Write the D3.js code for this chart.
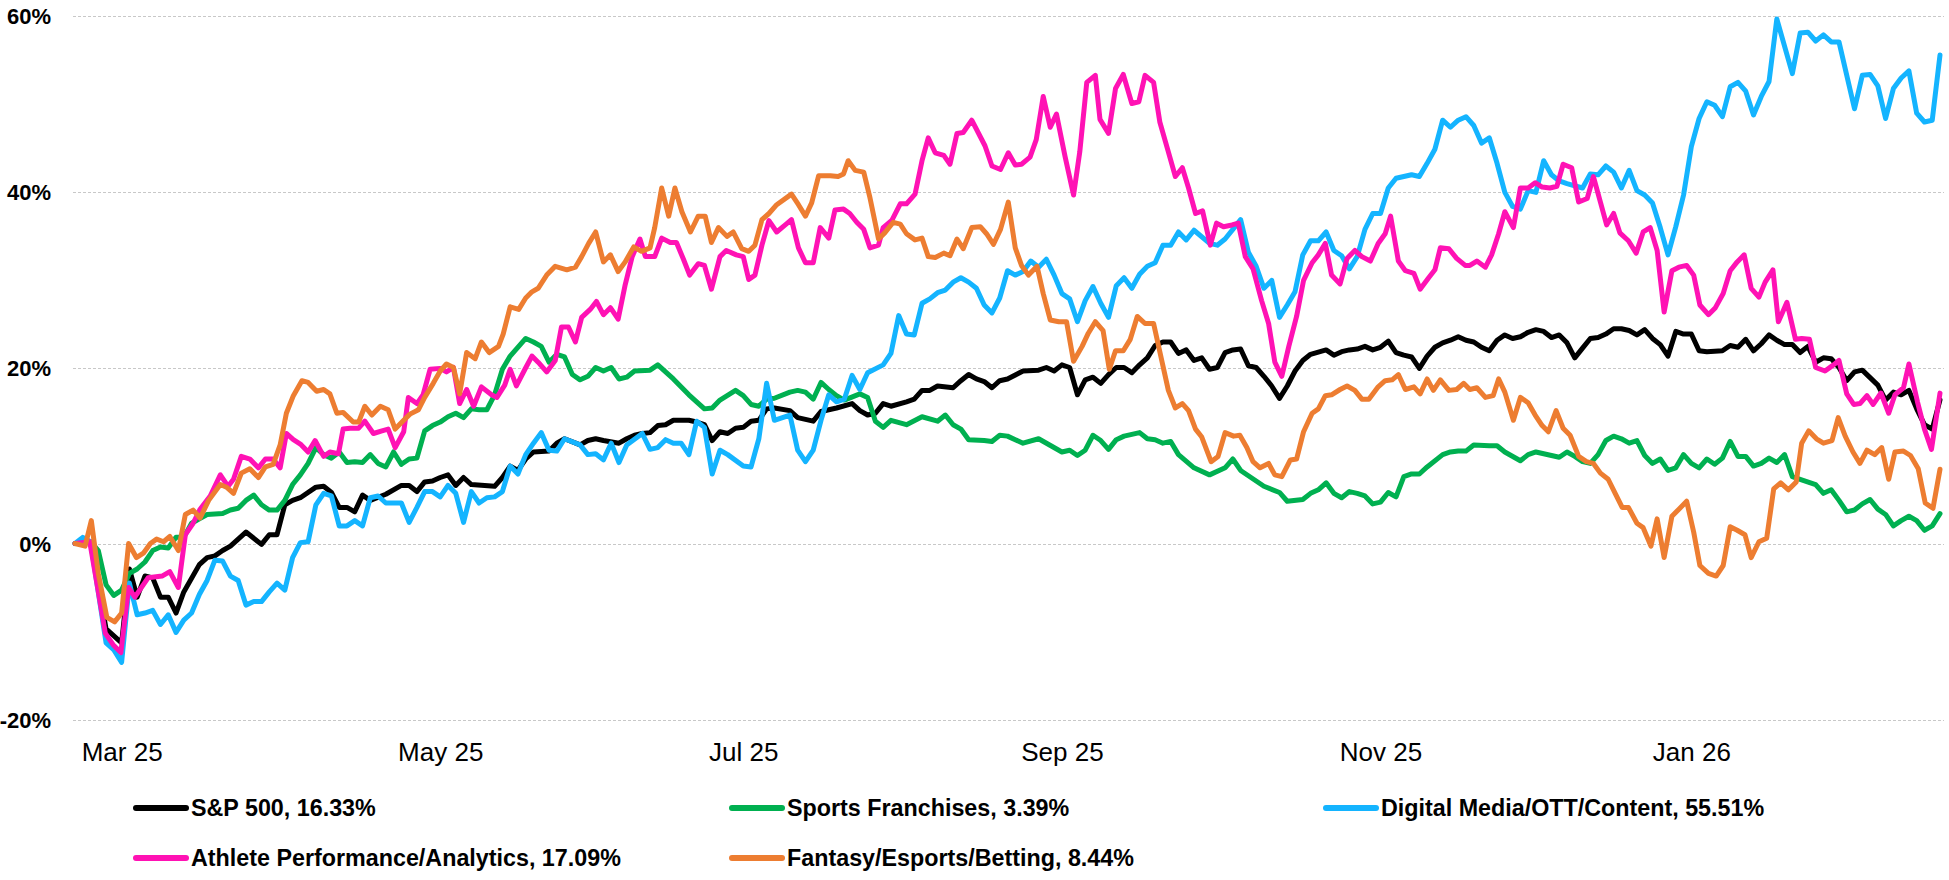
<!DOCTYPE html>
<html>
<head>
<meta charset="utf-8">
<script src="https://cdn.jsdelivr.net/npm/d3@7"></script>
<style>
  html, body { margin: 0; padding: 0; background: #ffffff; }
  svg { display: block; }
</style>
</head>
<body>
<svg id="chart" width="1949" height="880"></svg>
<script>
// Cumulative % change per trading session: [session, % change]
const sp500 = [[0,0],[2,0.2],[4,-9.7],[6,-11.3],[7,-2.9],[8,-6.1],[9,-3.7],[10,-3.9],[11,-6.1],[12,-6.1],[13,-7.9],[14,-5.5],[16,-2.4],[17,-1.6],[18,-1.4],[19,-0.8],[20,-0.3],[22,1.3],[24,-0.1],[25,1.0],[26,1.0],[27,4.4],[28,4.9],[29,5.2],[31,6.4],[32,6.5],[33,5.8],[34,4.1],[35,4.1],[36,3.6],[37,5.5],[38,4.9],[40,5.6],[42,6.6],[43,6.6],[44,5.9],[45,7.0],[46,7.1],[47,7.5],[48,7.8],[49,6.6],[50,7.5],[51,6.7],[54,6.5],[55,7.5],[56,8.8],[57,8.3],[58,9.6],[59,10.4],[61,10.5],[62,11.4],[63,11.9],[65,11.2],[66,11.7],[67,11.9],[68,11.7],[70,11.4],[71,11.9],[72,12.3],[73,12.5],[74,12.6],[75,13.4],[76,13.5],[77,14.0],[79,14.0],[80,13.8],[81,13.5],[82,11.7],[83,12.7],[84,12.5],[85,13.1],[86,13.2],[87,13.9],[88,14.0],[89,15.3],[90,15.4],[92,15.1],[93,14.3],[95,13.9],[96,15.0],[98,15.4],[100,15.9],[101,15.1],[102,14.6],[103,14.8],[104,15.9],[105,15.6],[107,16.1],[108,16.4],[109,17.4],[110,17.4],[111,17.9],[113,17.7],[114,18.5],[115,19.2],[116,18.7],[117,18.4],[118,17.7],[119,18.5],[120,18.7],[122,19.6],[124,19.7],[125,20.0],[126,19.6],[127,20.3],[128,20.0],[129,16.9],[130,18.6],[131,18.9],[132,18.2],[133,19.2],[134,20.0],[135,20.0],[136,19.4],[137,20.3],[138,21.1],[139,22.5],[140,22.9],[141,22.9],[142,21.6],[143,22.0],[144,20.8],[145,21.1],[146,19.8],[147,20.0],[148,21.7],[149,22.0],[150,22.1],[151,20.2],[152,20.0],[153,19.0],[154,17.9],[155,16.5],[156,17.9],[157,19.6],[158,20.8],[159,21.5],[161,22.0],[162,21.4],[163,21.8],[164,22.0],[165,22.1],[166,22.4],[167,22.0],[168,22.3],[169,23.0],[170,21.7],[171,21.4],[172,21.2],[173,19.9],[174,21.3],[175,22.3],[176,22.8],[177,23.1],[178,23.5],[179,23.1],[180,22.9],[181,22.3],[182,21.9],[183,23.1],[184,23.7],[185,23.3],[186,23.5],[187,24.0],[188,24.3],[189,24.1],[190,23.4],[191,23.7],[192,22.8],[193,21.1],[194,22.2],[195,23.3],[196,23.4],[197,23.8],[198,24.4],[199,24.4],[200,24.2],[201,23.7],[202,24.3],[203,23.3],[204,22.6],[205,21.3],[206,24.1],[207,23.8],[208,23.8],[209,21.9],[210,21.8],[212,21.9],[213,22.5],[214,22.3],[215,23.2],[216,21.9],[217,22.7],[218,23.7],[219,23.1],[220,22.6],[221,22.6],[222,21.7],[223,22.4],[224,20.6],[225,21.1],[226,21.0],[227,20.0],[228,18.5],[229,19.5],[230,19.7],[232,18.0],[233,16.3],[234,17.2],[235,16.9],[236,17.4],[237,15.3],[238,13.5],[239,13.0],[240,16.33]];

const sportsFranchises = [[0,0],[2,0.2],[3,-0.8],[4,-4.7],[5,-5.9],[6,-5.3],[7,-3.4],[8,-2.9],[9,-2.1],[10,-0.8],[11,-0.4],[12,-0.5],[13,0.7],[14,0.7],[15,2.3],[16,2.8],[17,3.3],[19,3.4],[20,3.8],[21,4.0],[22,4.9],[23,5.5],[24,4.4],[25,3.8],[26,3.8],[27,4.9],[28,6.7],[29,7.8],[30,9.1],[31,10.9],[32,10.1],[33,9.7],[34,10.4],[35,9.2],[36,9.3],[37,9.2],[38,10.1],[39,9.1],[40,8.7],[41,10.4],[42,9.0],[43,9.6],[44,9.7],[45,12.8],[46,13.4],[47,13.8],[48,14.4],[49,14.8],[50,14.3],[51,15.3],[52,15.2],[53,15.2],[54,16.9],[55,19.8],[56,21.3],[58,23.3],[59,22.9],[60,22.4],[61,20.6],[62,21.5],[63,21.2],[64,19.2],[65,18.6],[66,19.0],[67,20.0],[68,19.6],[69,20.0],[70,18.7],[71,18.9],[72,19.6],[74,19.7],[75,20.3],[77,18.7],[79,16.9],[80,16.1],[81,15.3],[82,15.4],[83,16.3],[85,17.4],[86,16.8],[87,15.8],[88,15.6],[89,16.4],[90,16.5],[92,17.2],[93,17.4],[94,17.2],[95,16.4],[96,18.3],[97,17.5],[98,16.8],[99,16.3],[101,17.0],[102,16.6],[103,13.9],[104,13.2],[105,14.0],[107,13.5],[109,14.4],[111,13.9],[112,14.6],[113,13.5],[114,13.0],[115,11.8],[117,11.7],[118,11.6],[119,12.3],[120,12.2],[122,11.4],[124,11.9],[127,10.4],[128,10.6],[129,10.0],[130,10.6],[131,12.3],[132,11.7],[133,10.7],[134,11.8],[135,12.2],[137,12.6],[138,11.9],[139,11.8],[140,11.4],[141,11.6],[142,10.1],[144,8.6],[146,7.8],[148,8.6],[149,9.6],[150,8.3],[152,7.1],[153,6.5],[155,5.8],[156,4.8],[158,5.0],[159,5.7],[160,6.1],[161,6.9],[162,5.7],[163,5.2],[164,5.9],[165,5.7],[166,5.4],[167,4.5],[168,4.7],[169,5.8],[170,5.3],[171,7.6],[172,7.9],[173,7.9],[174,8.7],[176,10.1],[177,10.4],[178,10.5],[179,10.5],[180,11.2],[182,11.1],[183,11.1],[184,10.4],[186,9.4],[187,10.1],[188,10.4],[191,9.8],[192,10.4],[193,9.9],[194,9.3],[195,9.1],[196,10.1],[197,11.7],[198,12.2],[199,11.9],[200,11.4],[201,11.7],[202,10.0],[203,9.1],[204,9.6],[205,8.3],[206,8.6],[207,10.1],[208,9.1],[209,8.6],[210,9.6],[211,9.0],[212,9.7],[213,11.6],[214,9.9],[215,9.9],[216,8.8],[217,9.1],[218,9.7],[219,9.2],[220,10.1],[221,7.6],[222,7.3],[224,6.7],[225,5.7],[226,6.1],[227,4.9],[228,3.6],[229,3.8],[230,4.5],[231,5.0],[232,3.9],[233,3.3],[234,2.0],[235,2.6],[236,3.1],[237,2.6],[238,1.5],[239,2.0],[240,3.39]];

const digitalMedia = [[0,0],[1,0.7],[2,0.2],[4,-11.3],[5,-12.1],[6,-13.5],[7,-4.5],[8,-8.1],[9,-7.9],[10,-7.6],[11,-9.2],[12,-8.1],[13,-10.1],[14,-8.7],[15,-7.9],[16,-5.8],[17,-4.2],[18,-1.9],[19,-2.0],[20,-3.7],[21,-4.2],[22,-7.0],[23,-6.6],[24,-6.6],[25,-5.5],[26,-4.5],[27,-5.3],[28,-1.6],[29,0.1],[30,0.2],[31,4.4],[32,5.7],[33,5.4],[34,2.0],[35,2.0],[36,2.6],[37,2.0],[38,5.2],[39,5.4],[40,4.6],[41,4.6],[42,4.6],[43,2.4],[44,4.1],[45,5.9],[46,5.9],[47,5.3],[48,6.6],[49,5.7],[50,2.4],[51,5.9],[52,4.6],[53,5.2],[54,5.3],[55,5.9],[56,8.8],[57,7.9],[58,10.1],[59,11.4],[60,12.6],[61,10.6],[62,10.5],[63,11.9],[65,11.2],[66,10.1],[67,10.2],[68,9.5],[69,11.4],[70,9.2],[71,11.2],[73,12.5],[74,10.7],[75,10.9],[76,11.8],[77,11.4],[78,11.4],[79,10.1],[80,13.9],[81,13.2],[82,7.9],[83,10.6],[84,10.1],[86,8.8],[87,8.7],[88,11.9],[89,18.2],[90,14.0],[92,14.6],[93,10.6],[94,9.3],[95,10.6],[96,14.0],[97,16.9],[98,16.1],[99,16.4],[100,19.1],[101,17.5],[102,19.4],[104,20.3],[105,21.6],[106,25.9],[107,23.8],[108,23.7],[109,27.3],[110,27.8],[111,28.5],[112,28.8],[113,29.7],[114,30.2],[115,29.7],[116,29.0],[117,27.1],[118,26.2],[119,27.9],[120,31.0],[121,30.5],[122,30.9],[123,32.1],[124,31.4],[125,32.3],[126,30.5],[127,28.4],[128,27.8],[129,25.2],[130,27.6],[131,29.2],[132,27.3],[133,25.7],[134,29.3],[135,30.2],[136,29.0],[137,30.6],[138,31.5],[139,31.9],[140,33.9],[141,33.9],[142,35.4],[143,34.5],[144,35.6],[146,34.1],[147,33.9],[148,34.6],[149,35.7],[150,36.8],[151,33.1],[152,31.5],[153,29.0],[154,29.9],[155,25.7],[156,27.1],[157,28.6],[158,32.8],[159,34.4],[160,34.4],[161,35.4],[162,33.3],[163,32.7],[164,31.2],[165,32.6],[166,35.7],[167,37.5],[168,37.5],[169,40.4],[170,41.5],[172,41.9],[173,41.7],[174,43.2],[175,44.8],[176,48.1],[177,47.3],[178,48.1],[179,48.5],[180,47.5],[181,45.5],[182,46.1],[183,43.2],[184,39.9],[185,38.3],[186,38.0],[187,40.1],[188,39.9],[189,43.5],[190,41.9],[191,41.2],[192,40.9],[194,40.4],[195,42.0],[196,41.9],[197,42.9],[198,42.2],[199,40.4],[200,42.4],[201,40.1],[202,39.6],[203,38.7],[204,35.9],[205,32.8],[206,36.0],[207,39.6],[208,45.1],[209,48.3],[210,50.2],[211,49.8],[212,48.5],[213,51.9],[214,52.4],[215,51.4],[216,48.7],[217,50.8],[218,52.5],[219,59.6],[221,53.4],[222,58.0],[223,58.1],[224,57.1],[225,57.8],[226,57.0],[227,57.0],[229,49.4],[230,53.2],[231,53.3],[232,52.0],[233,48.3],[234,51.7],[235,52.9],[236,53.7],[237,48.9],[238,47.9],[239,48.1],[240,55.51]];

const athletePerformance = [[0,0],[1.9,0.2],[3,-5.5],[3.9,-10.2],[4.9,-11.5],[5.9,-12.4],[6.9,-5.0],[7.7,-6.1],[9.4,-3.9],[11.2,-3.7],[12.2,-3.2],[13.3,-5.0],[14.2,1.0],[15.2,2.3],[16.1,3.9],[17.4,5.4],[18.7,7.8],[19.7,6.5],[20.4,7.3],[21.4,9.9],[22.5,9.6],[23.6,8.6],[24.5,9.6],[25.5,9.6],[26.4,8.6],[27.2,12.5],[28.1,11.8],[29,11.3],[30,10.4],[30.9,11.7],[32,9.9],[32.8,10.4],[33.9,10.2],[34.5,13.0],[35.4,13.1],[36.5,13.1],[37.3,13.9],[38.4,12.5],[39.5,12.8],[40.3,13.0],[41.2,10.9],[42.3,12.7],[42.9,16.6],[44,15.9],[44.8,16.9],[45.7,19.8],[47,19.9],[47.8,19.5],[48.7,20.0],[49.5,15.9],[50.4,17.5],[51.3,15.6],[52.3,17.8],[53.6,16.9],[54.3,16.6],[55.3,18.0],[56,19.8],[56.8,17.9],[57.9,19.8],[58.8,21.3],[59.6,20.6],[60.7,19.5],[61.8,20.8],[62.6,24.6],[63.5,24.6],[64.4,22.9],[65.2,25.7],[66.3,26.6],[67.1,27.5],[68,26.0],[68.9,26.8],[69.9,25.5],[70.8,29.4],[71.7,32.6],[72.7,34.6],[73.4,32.6],[74.6,32.6],[75.5,34.7],[76.6,34.2],[77.4,34.2],[78.3,32.3],[79.1,30.5],[80.2,31.8],[81,31.6],[81.9,28.9],[83,32.6],[83.8,33.3],[85.1,32.8],[86,32.6],[86.7,30.0],[87.5,30.5],[88.4,33.9],[89.3,36.7],[90.3,35.4],[91.4,36.2],[92.2,36.8],[93.1,33.6],[94,31.9],[95,31.9],[95.9,35.9],[97,34.7],[97.8,37.9],[98.9,38.0],[99.7,37.5],[100.6,36.5],[101.5,35.7],[102.3,33.6],[103.4,33.9],[104,35.9],[105.1,36.7],[106.2,38.6],[107,38.6],[108.1,39.7],[109,43.5],[109.8,46.1],[110.7,44.4],[111.8,44.1],[112.6,43.1],[113.5,46.6],[114.3,46.7],[115.4,48.1],[117.1,45.2],[118,42.9],[119.1,42.5],[120.1,44.4],[121,43.0],[121.8,43.1],[122.9,43.9],[123.7,45.9],[124.6,50.8],[125.5,47.3],[126.3,48.8],[127.4,44.0],[128.5,39.6],[129.3,44.5],[130.2,52.4],[131.3,53.2],[131.9,48.2],[133,46.6],[133.9,51.7],[134.9,53.3],[136,50.0],[136.9,50.2],[137.7,53.2],[138.8,52.4],[139.6,47.9],[140.7,44.5],[141.6,41.7],[142.5,42.7],[143.3,40.4],[144.2,37.5],[145.1,37.8],[146.1,33.9],[146.9,36.4],[147.8,36.0],[148.9,36.2],[149.7,36.4],[150.6,32.6],[151.6,31.2],[152.7,27.6],[153.6,25.0],[154.4,20.6],[155.3,19.0],[156.2,22.4],[157.2,25.8],[158.1,29.9],[159.2,31.9],[160,32.8],[160.9,34.1],[161.7,30.5],[162.8,29.5],[163.7,32.4],[164.7,33.3],[165.6,32.6],[166.7,32.1],[167.7,34.1],[168.6,35.2],[169.3,37.2],[170.3,32.1],[171.2,31.0],[172.3,30.7],[173.1,28.9],[174.2,30.2],[175,31.1],[175.7,33.6],[176.8,33.5],[177.8,32.4],[178.9,31.6],[179.5,31.6],[180.4,32.1],[181.5,31.4],[182.3,32.8],[183.2,35.2],[184,37.7],[185.1,35.9],[186,40.4],[187,40.4],[187.9,41.0],[188.8,40.5],[189.8,40.4],[190.7,40.6],[191.5,43.1],[192.6,42.7],[193.5,38.8],[194.6,39.2],[195.4,41.7],[196.3,38.8],[197.1,36.2],[198,37.5],[198.8,35.3],[199.9,34.4],[200.9,33.0],[201.8,35.4],[202.7,35.9],[203.6,33.3],[204.5,26.3],[205.5,31.0],[206.4,31.4],[207.4,31.6],[208.3,30.5],[209.1,27.1],[210.2,26.0],[211.1,26.8],[212.1,28.4],[213,31.0],[213.9,32.0],[214.8,32.8],[215.7,29.0],[216.7,28.0],[217.5,29.7],[218.5,31.1],[219.2,25.2],[220.3,27.4],[221.4,23.2],[222.2,23.3],[223.2,23.2],[224,20.0],[225.2,19.6],[226.3,20.3],[227,20.8],[228,17.0],[228.9,15.8],[229.7,15.9],[230.6,16.8],[231.4,15.8],[232.4,17.1],[233.4,14.8],[234.2,16.9],[235.3,17.7],[236,20.4],[237.1,16.1],[238,13.0],[238.9,10.7],[240,17.09]];

const fantasyBetting = [[0,0],[1.3,-0.3],[2.1,2.6],[3,-3.4],[4.1,-8.4],[5.1,-8.9],[6,-7.9],[6.9,0],[7.9,-1.6],[8.8,-1.1],[9.7,0],[10.5,0.5],[11.4,0.2],[12.2,0.8],[13.3,-0.8],[14.2,3.3],[15.2,3.8],[16.1,2.9],[17.2,4.9],[18.7,6.7],[19.5,6.4],[20.4,5.7],[21.4,8.0],[22.5,8.5],[23.6,7.5],[24.5,8.7],[25.5,9.0],[26.4,11.2],[27.2,14.8],[28.1,16.8],[29.2,18.5],[30,18.3],[31.1,17.3],[32,17.5],[32.8,17.0],[33.7,14.8],[34.5,14.9],[35.8,13.8],[36.5,13.8],[37.3,15.6],[38.2,14.6],[39.3,15.6],[40.3,15.2],[41.2,13.0],[42.3,14.0],[43.1,14.7],[44.2,15.2],[45,16.6],[46.1,18.2],[47,19.6],[47.8,20.4],[48.7,20.0],[49.5,17.0],[50.4,21.7],[51.5,21.0],[52.3,22.9],[53.3,21.7],[54.5,22.4],[55.1,23.8],[56,26.9],[57.1,26.6],[58,27.9],[58.8,28.6],[59.6,29.0],[60.7,30.5],[61.8,31.5],[63.3,31.1],[64.4,31.4],[65.2,32.6],[66.1,34.1],[67,35.4],[68,32.0],[68.9,32.8],[69.9,30.9],[70.8,32.0],[71.9,33.7],[72.9,33.2],[74,33.6],[74.6,35.9],[75.5,40.4],[76.4,37.2],[77.2,40.4],[78.1,37.7],[79.2,35.4],[80.2,37.2],[81.1,37.2],[81.9,34.2],[82.8,35.9],[83.9,34.9],[84.7,35.4],[85.8,33.5],[86.7,33.2],[87.5,33.9],[88.4,36.8],[89.3,37.5],[90.3,38.5],[92.2,39.7],[93.1,38.5],[94,37.2],[94.8,38.7],[95.7,41.8],[97.2,41.8],[98.2,41.7],[98.9,42.0],[99.5,43.5],[100.4,42.4],[101.5,42.2],[102.3,39.3],[103.4,34.6],[104.2,35.3],[105.3,36.5],[106.2,36.3],[107,35.2],[108.1,34.5],[109,34.7],[109.8,32.6],[110.7,32.5],[111.8,33.0],[112.6,32.7],[113.5,34.6],[114.3,33.5],[115.4,35.9],[116.5,36.0],[117.3,35.2],[118.2,34.0],[119.1,35.7],[120.1,38.8],[121,33.6],[121.8,31.6],[122.7,30.5],[123.8,31.5],[124.6,28.4],[125.5,25.4],[126.6,25.2],[127.6,25.2],[128.5,20.7],[129.6,22.4],[130.4,23.9],[131.3,25.2],[132.3,24.2],[133.1,19.8],[133.9,21.9],[134.9,21.9],[135.8,23.2],[136.7,25.8],[137.7,25.0],[138.8,25.0],[139.9,20.6],[140.7,17.4],[141.6,15.4],[142.5,15.9],[143.3,15.1],[144.2,13.0],[145,12.1],[146.2,9.3],[147.1,9.9],[148,12.6],[149.1,12.2],[149.9,12.3],[150.8,10.9],[151.6,9.3],[152.5,8.6],[153.6,9.1],[154.4,7.8],[155.3,7.6],[156.4,9.5],[157.2,9.6],[158.1,12.7],[159.2,14.8],[160,15.3],[160.9,16.8],[161.7,16.9],[162.8,17.5],[163.7,17.9],[164.7,17.4],[165.6,16.4],[166.5,16.4],[167.7,17.8],[168.6,18.5],[169.5,18.6],[170.3,19.2],[171.2,17.5],[172.3,17.8],[173.1,17.0],[174,18.7],[174.8,17.4],[175.7,18.6],[176.8,17.4],[177.8,17.5],[178.7,18.2],[179.5,17.5],[180.4,17.7],[181.5,16.6],[182.5,16.8],[183.2,18.7],[184,17.2],[185.1,14.0],[186,16.6],[187,16.0],[187.9,14.6],[188.8,13.4],[189.6,12.7],[190.6,15.1],[191.5,13.1],[192.4,12.3],[193.5,9.9],[194.5,9.3],[195.4,9.1],[196.3,8.0],[197.3,7.3],[198.2,5.7],[199.1,4.1],[199.9,4.1],[201,2.3],[201.8,1.8],[202.8,-0.3],[203.6,2.8],[204.5,-1.6],[205.5,3.1],[206.4,3.9],[207.4,4.8],[208.3,1.3],[209.1,-2.5],[210.2,-3.4],[211.2,-3.7],[212.1,-2.5],[213,1.9],[213.9,1.5],[214.9,1.0],[215.7,-1.6],[216.7,0.2],[217.7,0.6],[218.6,6.2],[219.5,6.9],[220.5,6.1],[221.5,7.0],[222.2,11.4],[223.1,12.8],[224.1,11.9],[225,11.4],[226.1,11.7],[226.9,14.3],[227.8,12.2],[228.8,10.4],[229.7,9.1],[230.6,10.6],[231.6,10.1],[232.5,10.9],[233.4,7.3],[234.2,10.4],[235.3,10.5],[236.2,10.0],[237.2,8.5],[238.1,4.6],[239.1,4.0],[240,8.44]];

const seriesLabels = ["S&P 500, 16.33%", "Sports Franchises, 3.39%", "Digital Media/OTT/Content, 55.51%", "Athlete Performance/Analytics, 17.09%", "Fantasy/Esports/Betting, 8.44%"];
const seriesColors = ["#000000", "#00b050", "#14b4ff", "#ff12b4", "#ed7d31"];
const yTickValues = [-20, 0, 20, 40, 60];
const xTickSessions = [6, 47, 86, 127, 168, 208];
const xTickLabels = ["Mar 25", "May 25", "Jul 25", "Sep 25", "Nov 25", "Jan 26"];

const series = [sp500, sportsFranchises, digitalMedia, athletePerformance, fantasyBetting]
  .map((values, i) => ({ label: seriesLabels[i], color: seriesColors[i], values }));

const svg = d3.select("#chart");
const x = d3.scaleLinear().domain([0, 240]).range([75, 1940]);
const y = d3.scaleLinear().domain([-20, 60]).range([719.5, 15.5]);

// dashed horizontal gridlines
const grid = svg.append("g")
  .attr("transform", "translate(73,0)")
  .call(d3.axisLeft(y).tickValues(yTickValues).tickSize(-(1944 - 73)).tickFormat(""));
grid.select(".domain").remove();
grid.selectAll("line")
  .attr("stroke", "#c8c8c8")
  .attr("stroke-width", 1)
  .attr("stroke-dasharray", "3,2")
  .attr("shape-rendering", "crispEdges");

// y axis labels
const yAxis = svg.append("g")
  .attr("transform", "translate(51,0)")
  .call(d3.axisLeft(y).tickValues(yTickValues).tickSize(0).tickPadding(0).tickFormat(d => d + "%"));
yAxis.select(".domain").remove();
yAxis.selectAll("text")
  .attr("fill", "#000")
  .attr("dy", "0.36em")
  .style("font-family", "'Liberation Sans', Arial, sans-serif")
  .style("font-size", "22px")
  .style("font-weight", "bold");

// x axis labels
const xAxis = svg.append("g")
  .attr("transform", "translate(0,719.5)")
  .call(d3.axisBottom(x).tickValues(xTickSessions).tickSize(0).tickPadding(23)
    .tickFormat((d, i) => xTickLabels[i]));
xAxis.select(".domain").remove();
xAxis.selectAll("text")
  .attr("fill", "#000")
  .style("font-family", "'Liberation Sans', Arial, sans-serif")
  .style("font-size", "26px");

// series lines
const line = d3.line().x(d => x(d[0])).y(d => y(d[1]));
svg.append("g")
  .selectAll("path")
  .data(series)
  .join("path")
  .attr("d", d => line(d.values))
  .attr("fill", "none")
  .attr("stroke", d => d.color)
  .attr("stroke-width", 5)
  .attr("stroke-linejoin", "round")
  .attr("stroke-linecap", "round");

// legend: three columns, two rows
const legendCols = [133, 729, 1323];
const legendRows = [808, 858];
const legend = svg.append("g")
  .selectAll("g")
  .data(series)
  .join("g")
  .attr("transform", (d, i) => `translate(${legendCols[i % 3]},${legendRows[Math.floor(i / 3)]})`);
legend.append("line")
  .attr("x1", 3).attr("x2", 53).attr("y1", 0).attr("y2", 0)
  .attr("stroke", d => d.color)
  .attr("stroke-width", 6)
  .attr("stroke-linecap", "round");
legend.append("text")
  .attr("x", 58)
  .attr("y", 8)
  .attr("fill", "#000")
  .style("font-family", "'Liberation Sans', Arial, sans-serif")
  .style("font-size", "23.3px")
  .style("font-weight", "bold")
  .text(d => d.label);
</script>
</body>
</html>
